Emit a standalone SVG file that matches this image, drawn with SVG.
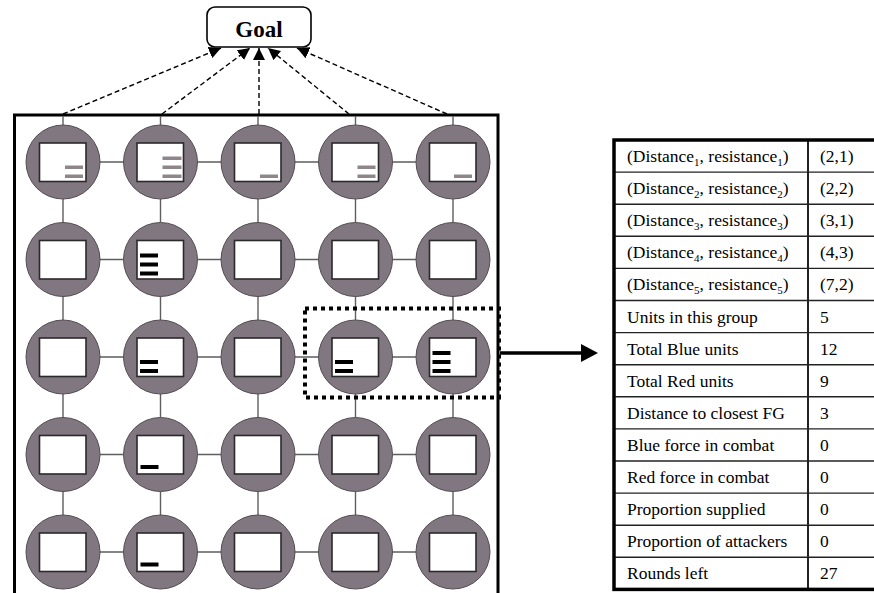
<svg xmlns="http://www.w3.org/2000/svg" xmlns:xlink="http://www.w3.org/1999/xlink" width="874" height="593" viewBox="0 0 874 593">
<style>
  .circ { fill: #807780; stroke: #544c52; stroke-width: 1; }
  .box { fill: #ffffff; stroke: #2a2a2a; stroke-width: 1.6; }
  .gb { fill: #8e868b; }
  .bb { fill: #000000; }
  .link { stroke: #5e5e5e; stroke-width: 1.4; fill: none; }
  .dash { stroke: #000; stroke-width: 1.4; stroke-dasharray: 5 3; fill: none; }
  .frame { stroke: #000; stroke-width: 3; fill: none; }
  .dot { stroke: #000; stroke-width: 4; stroke-dasharray: 4 4; fill: none; }
  .t { font-family: "Liberation Serif", "Times New Roman", serif; font-size: 17.5px; fill: #000; }
  .rl { stroke: #222; stroke-width: 1.4; }
  .sub { font-size: 11px; }
</style>
<defs>
  <g id="node">
    <circle class="circ" cx="0" cy="0" r="37"/>
    <rect class="box" x="-23.5" y="-19" width="46.5" height="38.5"/>
  </g>
  <marker id="ah" markerUnits="userSpaceOnUse" markerWidth="12" markerHeight="12" viewBox="0 0 12 12" refX="12" refY="6" orient="auto">
    <path d="M0,0 L12,6 L0,12 Z" fill="#000"/>
  </marker>
</defs>

<!-- frame -->
<path class="frame" d="M14.5,600 V115 H498 V600"/>

<!-- Goal node -->
<g id="goal">
  <rect x="207" y="7" width="104" height="40" rx="8" ry="8" fill="#fff" stroke="#000" stroke-width="1.6"/>
  <text x="259" y="37" text-anchor="middle" font-family="Liberation Serif, 'Times New Roman', serif" font-size="23" font-weight="bold">Goal</text>
</g>

<!-- connectors -->
<g id="connectors">
  <path class="dash" d="M63,114 L221,48" marker-end="url(#ah)"/>
  <path class="dash" d="M162,114 L250,48" marker-end="url(#ah)"/>
  <path class="dash" d="M259,114 L259,48" marker-end="url(#ah)"/>
  <path class="dash" d="M349,114 L268,48" marker-end="url(#ah)"/>
  <path class="dash" d="M447,114 L297,48" marker-end="url(#ah)"/>
  <path class="link" d="M63,116 V125 M160.5,116 V125 M258,116 V125 M355.5,116 V125 M453,116 V125"/>
  <path class="link" d="M100,162 H123.5 M197.5,162 H221 M295,162 H318.5 M392.5,162 H416
                        M100,259.5 H123.5 M197.5,259.5 H221 M295,259.5 H318.5 M392.5,259.5 H416
                        M100,357 H123.5 M197.5,357 H221 M295,357 H318.5 M392.5,357 H416
                        M100,454.5 H123.5 M197.5,454.5 H221 M295,454.5 H318.5 M392.5,454.5 H416
                        M100,552 H123.5 M197.5,552 H221 M295,552 H318.5 M392.5,552 H416"/>
  <path class="link" d="M63,199 V222.5 M63,296.5 V320 M63,394 V417.5 M63,491.5 V515
                        M160.5,199 V222.5 M160.5,296.5 V320 M160.5,394 V417.5 M160.5,491.5 V515
                        M258,199 V222.5 M258,296.5 V320 M258,394 V417.5 M258,491.5 V515
                        M355.5,199 V222.5 M355.5,296.5 V320 M355.5,394 V417.5 M355.5,491.5 V515
                        M453,199 V222.5 M453,296.5 V320 M453,394 V417.5 M453,491.5 V515"/>
  <line x1="500" y1="353" x2="583" y2="353" stroke="#000" stroke-width="3.5"/>
  <path d="M581,344 L598,353 L581,362 Z" fill="#000"/>
</g>

<!-- row 1 -->
<g id="n11" transform="translate(63,162)"><use xlink:href="#node"/><rect class="gb" x="2" y="3.5" width="18" height="3.5"/><rect class="gb" x="2" y="12.5" width="18" height="3.5"/></g>
<g id="n12" transform="translate(160.5,162)"><use xlink:href="#node"/><rect class="gb" x="2" y="-5.5" width="19" height="3.5"/><rect class="gb" x="2" y="3.5" width="19" height="3.5"/><rect class="gb" x="2" y="12.5" width="19" height="3.5"/></g>
<g id="n13" transform="translate(258,162)"><use xlink:href="#node"/><rect class="gb" x="2" y="12.5" width="18" height="3.5"/></g>
<g id="n14" transform="translate(355.5,162)"><use xlink:href="#node"/><rect class="gb" x="2" y="3.5" width="18" height="3.5"/><rect class="gb" x="2" y="12.5" width="18" height="3.5"/></g>
<g id="n15" transform="translate(453,162)"><use xlink:href="#node"/><rect class="gb" x="1" y="12.5" width="18" height="3.5"/></g>

<!-- row 2 -->
<g id="n21" transform="translate(63,259.5)"><use xlink:href="#node"/></g>
<g id="n22" transform="translate(160.5,259.5)"><use xlink:href="#node"/><rect class="bb" x="-20.5" y="-6" width="18" height="4"/><rect class="bb" x="-20.5" y="3" width="18" height="4"/><rect class="bb" x="-20.5" y="12" width="18" height="4"/></g>
<g id="n23" transform="translate(258,259.5)"><use xlink:href="#node"/></g>
<g id="n24" transform="translate(355.5,259.5)"><use xlink:href="#node"/></g>
<g id="n25" transform="translate(453,259.5)"><use xlink:href="#node"/></g>

<!-- row 3 -->
<g id="n31" transform="translate(63,357)"><use xlink:href="#node"/></g>
<g id="n32" transform="translate(160.5,357)"><use xlink:href="#node"/><rect class="bb" x="-20.5" y="3" width="18" height="4"/><rect class="bb" x="-20.5" y="12" width="18" height="4"/></g>
<g id="n33" transform="translate(258,357)"><use xlink:href="#node"/></g>
<g id="n34" transform="translate(355.5,357)"><use xlink:href="#node"/><rect class="bb" x="-20.5" y="3" width="18" height="4"/><rect class="bb" x="-20.5" y="12" width="18" height="4"/></g>
<g id="n35" transform="translate(453,357)"><use xlink:href="#node"/><rect class="bb" x="-20.5" y="-6" width="18" height="4"/><rect class="bb" x="-20.5" y="3" width="18" height="4"/><rect class="bb" x="-20.5" y="12" width="18" height="4"/></g>

<!-- row 4 -->
<g id="n41" transform="translate(63,454.5)"><use xlink:href="#node"/></g>
<g id="n42" transform="translate(160.5,454.5)"><use xlink:href="#node"/><rect class="bb" x="-20" y="10.5" width="18" height="4"/></g>
<g id="n43" transform="translate(258,454.5)"><use xlink:href="#node"/></g>
<g id="n44" transform="translate(355.5,454.5)"><use xlink:href="#node"/></g>
<g id="n45" transform="translate(453,454.5)"><use xlink:href="#node"/></g>

<!-- row 5 -->
<g id="n51" transform="translate(63,552)"><use xlink:href="#node"/></g>
<g id="n52" transform="translate(160.5,552)"><use xlink:href="#node"/><rect class="bb" x="-20" y="10.5" width="18" height="4"/></g>
<g id="n53" transform="translate(258,552)"><use xlink:href="#node"/></g>
<g id="n54" transform="translate(355.5,552)"><use xlink:href="#node"/></g>
<g id="n55" transform="translate(453,552)"><use xlink:href="#node"/></g>

<!-- dotted selection -->
<g id="selection">
  <rect class="dot" x="305" y="308.5" width="194" height="89"/>
</g>

<!-- table -->
<g id="table">
  <g>
    <line class="rl" x1="614" y1="172.1" x2="876" y2="172.1"/>
    <line class="rl" x1="614" y1="204.2" x2="876" y2="204.2"/>
    <line class="rl" x1="614" y1="236.3" x2="876" y2="236.3"/>
    <line class="rl" x1="614" y1="268.4" x2="876" y2="268.4"/>
    <line class="rl" x1="614" y1="300.5" x2="876" y2="300.5"/>
    <line class="rl" x1="614" y1="332.6" x2="876" y2="332.6"/>
    <line class="rl" x1="614" y1="364.7" x2="876" y2="364.7"/>
    <line class="rl" x1="614" y1="396.8" x2="876" y2="396.8"/>
    <line class="rl" x1="614" y1="428.9" x2="876" y2="428.9"/>
    <line class="rl" x1="614" y1="461" x2="876" y2="461"/>
    <line class="rl" x1="614" y1="493.1" x2="876" y2="493.1"/>
    <line class="rl" x1="614" y1="525.2" x2="876" y2="525.2"/>
    <line class="rl" x1="614" y1="557.3" x2="876" y2="557.3"/>
    <line x1="808" y1="140" x2="808" y2="589.4" stroke="#222" stroke-width="2"/>
    <rect x="614" y="140" width="264" height="449.4" fill="none" stroke="#000" stroke-width="3.5"/>
  </g>
  <g class="t">
    <text x="627" y="162">(Distance<tspan class="sub" dy="4">1</tspan><tspan dy="-4">, resistance</tspan><tspan class="sub" dy="4">1</tspan><tspan dy="-4">)</tspan></text>
    <text x="627" y="194.1">(Distance<tspan class="sub" dy="4">2</tspan><tspan dy="-4">, resistance</tspan><tspan class="sub" dy="4">2</tspan><tspan dy="-4">)</tspan></text>
    <text x="627" y="226.2">(Distance<tspan class="sub" dy="4">3</tspan><tspan dy="-4">, resistance</tspan><tspan class="sub" dy="4">3</tspan><tspan dy="-4">)</tspan></text>
    <text x="627" y="258.3">(Distance<tspan class="sub" dy="4">4</tspan><tspan dy="-4">, resistance</tspan><tspan class="sub" dy="4">4</tspan><tspan dy="-4">)</tspan></text>
    <text x="627" y="290.4">(Distance<tspan class="sub" dy="4">5</tspan><tspan dy="-4">, resistance</tspan><tspan class="sub" dy="4">5</tspan><tspan dy="-4">)</tspan></text>
    <text x="627" y="322.5">Units in this group</text>
    <text x="627" y="354.6">Total Blue units</text>
    <text x="627" y="386.7">Total Red units</text>
    <text x="627" y="418.8">Distance to closest FG</text>
    <text x="627" y="450.9">Blue force in combat</text>
    <text x="627" y="483">Red force in combat</text>
    <text x="627" y="515.1">Proportion supplied</text>
    <text x="627" y="547.2">Proportion of attackers</text>
    <text x="627" y="579.3">Rounds left</text>

    <text x="820" y="162">(2,1)</text>
    <text x="820" y="194.1">(2,2)</text>
    <text x="820" y="226.2">(3,1)</text>
    <text x="820" y="258.3">(4,3)</text>
    <text x="820" y="290.4">(7,2)</text>
    <text x="820" y="322.5">5</text>
    <text x="820" y="354.6">12</text>
    <text x="820" y="386.7">9</text>
    <text x="820" y="418.8">3</text>
    <text x="820" y="450.9">0</text>
    <text x="820" y="483">0</text>
    <text x="820" y="515.1">0</text>
    <text x="820" y="547.2">0</text>
    <text x="820" y="579.3">27</text>
  </g>
</g>
</svg>
